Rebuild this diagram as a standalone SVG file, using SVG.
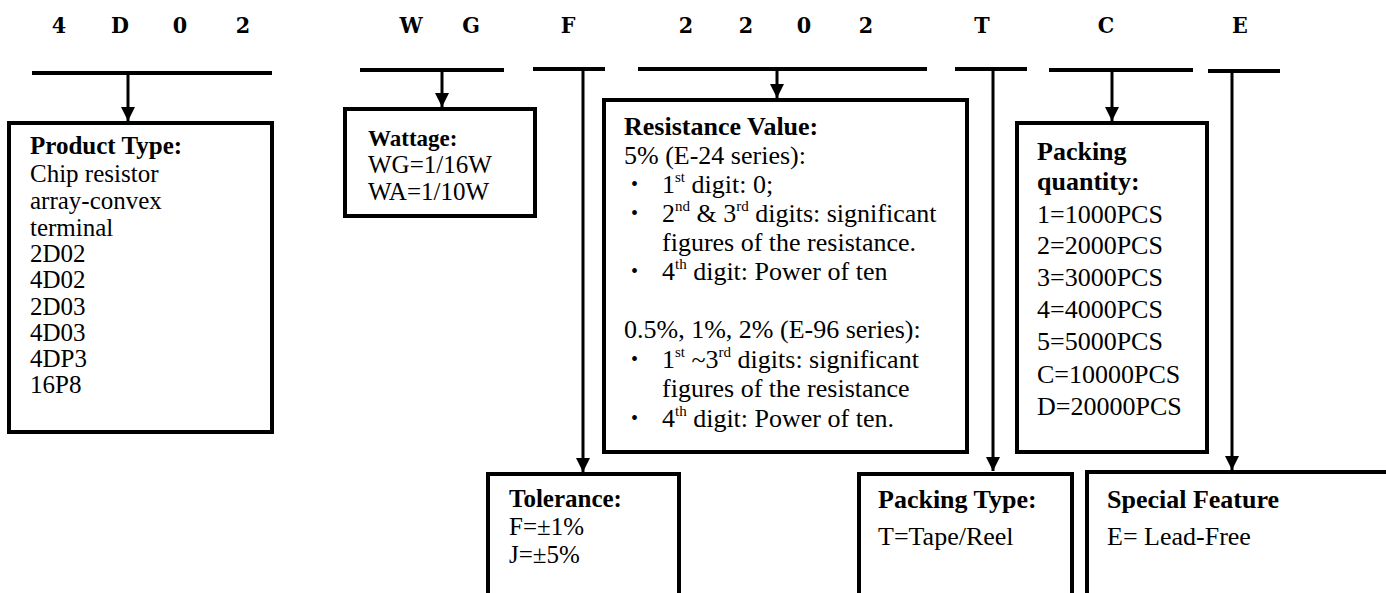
<svg xmlns="http://www.w3.org/2000/svg" width="1386" height="593" viewBox="0 0 1386 593">
<style>
.code{font-family:"DejaVu Serif Condensed","DejaVu Serif",serif;font-weight:bold;font-size:23px;fill:#000;text-anchor:middle}
.t{font-family:"Liberation Serif","Times New Roman",serif;fill:#000}
.b{font-weight:bold}
.box{fill:#fff;stroke:#000;stroke-width:4}
.rule{stroke:#000;stroke-width:4;fill:none}
.arr{stroke:#000;stroke-width:3;fill:none;marker-end:url(#ah)}
.bul{font-size:20px}
</style>
<defs>
<marker id="ah" viewBox="0 0 12 12" markerUnits="userSpaceOnUse" markerWidth="14" markerHeight="14" refX="12" refY="6" orient="auto">
<path d="M0,0 L12,6 L0,12 z" fill="#000"/>
</marker>
</defs>
<rect width="1386" height="593" fill="#fff"/>

<g id="code-letters">
<text class="code" x="59" y="33">4</text>
<text class="code" x="120" y="33">D</text>
<text class="code" x="180" y="33">0</text>
<text class="code" x="243" y="33">2</text>
<text class="code" x="411" y="33">W</text>
<text class="code" x="471" y="33">G</text>
<text class="code" x="568" y="33">F</text>
<text class="code" x="686" y="33">2</text>
<text class="code" x="746" y="33">2</text>
<text class="code" x="804" y="33">0</text>
<text class="code" x="866" y="33">2</text>
<text class="code" x="982" y="33">T</text>
<text class="code" x="1106" y="33">C</text>
<text class="code" x="1240" y="33">E</text>
</g>

<g id="connectors">
<line class="rule" x1="32" y1="73" x2="272" y2="73"/>
<line class="rule" x1="360" y1="70" x2="504" y2="70"/>
<line class="rule" x1="533" y1="69" x2="605" y2="69"/>
<line class="rule" x1="638" y1="69" x2="927" y2="69"/>
<line class="rule" x1="955" y1="69" x2="1027" y2="69"/>
<line class="rule" x1="1049" y1="70" x2="1193" y2="70"/>
<line class="rule" x1="1208" y1="71" x2="1280" y2="71"/>
<line class="arr" x1="128" y1="73" x2="128" y2="121"/>
<line class="arr" x1="442" y1="70" x2="442" y2="107"/>
<line class="arr" x1="777" y1="69" x2="777" y2="98"/>
<line class="arr" x1="1112" y1="70" x2="1112" y2="121"/>
<line class="arr" x1="583" y1="69" x2="583" y2="472"/>
<line class="arr" x1="993" y1="69" x2="993" y2="471"/>
<line class="arr" x1="1232" y1="71" x2="1232" y2="470"/>
</g>

<g id="product-type">
<rect class="box" x="9" y="123" width="263" height="309"/>
<text class="t" font-size="25">
<tspan class="b" x="30" y="154">Product Type:</tspan>
<tspan x="30" y="182">Chip resistor</tspan>
<tspan x="30" y="209">array-convex</tspan>
<tspan x="30" y="236">terminal</tspan>
<tspan x="30" y="262">2D02</tspan>
<tspan x="30" y="288">4D02</tspan>
<tspan x="30" y="315">2D03</tspan>
<tspan x="30" y="341">4D03</tspan>
<tspan x="30" y="367">4DP3</tspan>
<tspan x="30" y="393">16P8</tspan>
</text>
</g>

<g id="wattage">
<rect class="box" x="345" y="109" width="190" height="107"/>
<text class="t" font-size="25">
<tspan class="b" x="368" y="146" font-size="23">Wattage:</tspan>
<tspan x="368" y="173">WG=1/16W</tspan>
<tspan x="368" y="200">WA=1/10W</tspan>
</text>
</g>

<g id="resistance-value">
<rect class="box" x="604" y="100" width="363" height="352"/>
<text class="t" font-size="26">
<tspan class="b" x="624" y="135">Resistance Value:</tspan>
<tspan x="624" y="164">5% (E-24 series):</tspan>
</text>
<text class="t bul" x="631" y="191">•</text>
<text class="t" font-size="26" x="662" y="193">1<tspan font-size="15" dy="-11">st</tspan><tspan dy="11"> digit: 0;</tspan></text>
<text class="t bul" x="631" y="220">•</text>
<text class="t" font-size="26" x="662" y="222">2<tspan font-size="15" dy="-11">nd</tspan><tspan dy="11"> &amp; 3</tspan><tspan font-size="15" dy="-11">rd</tspan><tspan dy="11"> digits: significant</tspan></text>
<text class="t" font-size="26" x="662" y="251">figures of the resistance.</text>
<text class="t bul" x="631" y="278">•</text>
<text class="t" font-size="26" x="662" y="280">4<tspan font-size="15" dy="-11">th</tspan><tspan dy="11"> digit: Power of ten</tspan></text>
<text class="t" font-size="26" x="624" y="338">0.5%, 1%, 2% (E-96 series):</text>
<text class="t bul" x="631" y="366">•</text>
<text class="t" font-size="26" x="662" y="368">1<tspan font-size="15" dy="-11">st</tspan><tspan dy="11"> ~3</tspan><tspan font-size="15" dy="-11">rd</tspan><tspan dy="11"> digits: significant</tspan></text>
<text class="t" font-size="26" x="662" y="397">figures of the resistance</text>
<text class="t bul" x="631" y="425">•</text>
<text class="t" font-size="26" x="662" y="427">4<tspan font-size="15" dy="-11">th</tspan><tspan dy="11"> digit: Power of ten.</tspan></text>
</g>

<g id="packing-quantity">
<rect class="box" x="1017" y="123" width="190" height="329"/>
<text class="t" font-size="26">
<tspan class="b" x="1037" y="160">Packing</tspan>
<tspan class="b" x="1037" y="190">quantity:</tspan>
<tspan x="1037" y="223">1=1000PCS</tspan>
<tspan x="1037" y="254">2=2000PCS</tspan>
<tspan x="1037" y="286">3=3000PCS</tspan>
<tspan x="1037" y="318">4=4000PCS</tspan>
<tspan x="1037" y="350">5=5000PCS</tspan>
<tspan x="1037" y="383">C=10000PCS</tspan>
<tspan x="1037" y="415">D=20000PCS</tspan>
</text>
</g>

<g id="tolerance">
<rect class="box" x="488" y="474" width="191" height="160"/>
<text class="t" font-size="25">
<tspan class="b" x="509" y="507">Tolerance:</tspan>
<tspan x="509" y="535">F=±1%</tspan>
<tspan x="509" y="563">J=±5%</tspan>
</text>
</g>

<g id="packing-type">
<rect class="box" x="859" y="474" width="213" height="160"/>
<text class="t" font-size="26">
<tspan class="b" x="878" y="508">Packing Type:</tspan>
<tspan x="878" y="545">T=Tape/Reel</tspan>
</text>
</g>

<g id="special-feature">
<rect class="box" x="1087" y="472" width="340" height="160"/>
<text class="t" font-size="26">
<tspan class="b" x="1107" y="508">Special Feature</tspan>
<tspan x="1107" y="545">E= Lead-Free</tspan>
</text>
</g>
</svg>
